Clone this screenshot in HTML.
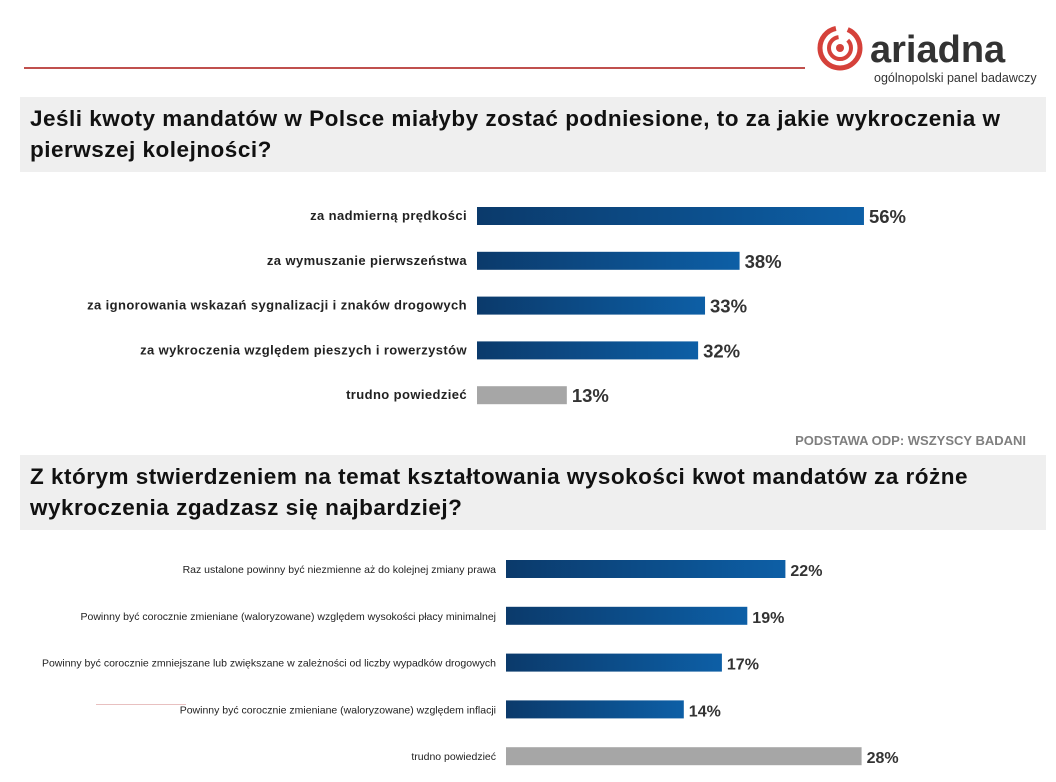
<!DOCTYPE html>
<html><head><meta charset="utf-8"><style>
body{margin:0;width:1056px;height:782px;background:#fff;overflow:hidden;position:relative;font-family:"Liberation Sans",sans-serif}
.band{position:absolute;left:20px;width:1026px;background:#efefef;font-weight:bold;font-size:22.5px;letter-spacing:0.5px;color:#111;line-height:31px;padding:6px 0 0 10px;box-sizing:border-box;white-space:nowrap}
</style></head><body>
<div style="position:absolute;left:24px;top:67px;width:781px;height:2px;background:#c0504d"></div>
<svg style="position:absolute;left:812px;top:24px" width="240" height="64">
<circle cx="28" cy="24" r="20" fill="none" stroke="#d5413a" stroke-width="5" stroke-dasharray="90 12"/>
<circle cx="28" cy="24" r="11" fill="none" stroke="#d5413a" stroke-width="4" stroke-dasharray="50 10"/>
<circle cx="28" cy="24" r="4" fill="#d5413a"/>
<text x="58" y="38" font-family="Liberation Sans" font-weight="bold" font-size="38" fill="#333">ariadna</text>
<text x="62" y="58" font-family="Liberation Sans" font-size="12.5" fill="#333">ogólnopolski panel badawczy</text>
</svg>
<div class="band" style="top:97px;height:75px">Jeśli kwoty mandatów w Polsce miałyby zostać podniesione, to za jakie wykroczenia w<br>pierwszej kolejności?</div>
<div class="band" style="top:455px;height:75px">Z którym stwierdzeniem na temat kształtowania wysokości kwot mandatów za różne<br>wykroczenia zgadzasz się najbardziej?</div>
<div style="position:absolute;right:30px;top:433px;font-size:13px;font-weight:bold;color:#7f7f7f">PODSTAWA ODP: WSZYSCY BADANI</div>
<div style="position:absolute;left:96px;top:704px;width:90px;height:1px;background:#e8c0c0"></div>
<svg id="c" width="1056" height="782" style="position:absolute;left:0;top:0">
<defs><linearGradient id="g" x1="0" x2="1"><stop offset="0" stop-color="#0b3a6b"/><stop offset="1" stop-color="#0d5fa6"/></linearGradient></defs>
</svg>
<script>
const cats1=["za nadmierną prędkości","za wymuszanie pierwszeństwa","za ignorowania wskazań sygnalizacji i znaków drogowych","za wykroczenia względem pieszych i rowerzystów","trudno powiedzieć"];
const vals1=[56,38,33,32,13];
const cats2=["Raz ustalone powinny być niezmienne aż do kolejnej zmiany prawa","Powinny być corocznie zmieniane (waloryzowane) względem  wysokości płacy minimalnej","Powinny być corocznie zmniejszane lub zwiększane w zależności od liczby wypadków drogowych","Powinny być corocznie zmieniane (waloryzowane) względem  inflacji","trudno powiedzieć"];
const vals2=[22,19,17,14,28];
const svg=document.getElementById('c');
const NS='http://www.w3.org/2000/svg';
function draw(cats,vals,x0,scale,y0,step,lblFs,valFs,lblBold,ls){
 cats.forEach((c,i)=>{
  const cy=y0+i*step, w=vals[i]*scale, gray=i===cats.length-1;
  const r=document.createElementNS(NS,'rect');
  r.setAttribute('x',x0);r.setAttribute('y',cy-9);r.setAttribute('width',w);r.setAttribute('height',18);
  r.setAttribute('fill',gray?'#a6a6a6':'url(#g)');
  
  
  svg.appendChild(r);
  const t=document.createElementNS(NS,'text');
  t.setAttribute('x',x0-10);t.setAttribute('y',cy+4);t.setAttribute('text-anchor','end');
  t.setAttribute('font-size',lblFs);t.setAttribute('fill','#222');
  t.setAttribute('letter-spacing',ls);
  if(lblBold)t.setAttribute('font-weight','bold');
  t.textContent=c;
  
  
  svg.appendChild(t);
  const v=document.createElementNS(NS,'text');
  v.setAttribute('x',x0+w+5);v.setAttribute('y',cy+7);v.setAttribute('font-size',valFs);
  v.setAttribute('font-weight','bold');v.setAttribute('fill','#333');
  v.textContent=vals[i]+'%';
  
  
  svg.appendChild(v);
 });
}
draw(cats1,vals1,477,6.91,216,44.8,13,18.5,true,0.4);
draw(cats2,vals2,506,12.7,569,46.8,10.5,16,false,0);
</script>
</body></html>
